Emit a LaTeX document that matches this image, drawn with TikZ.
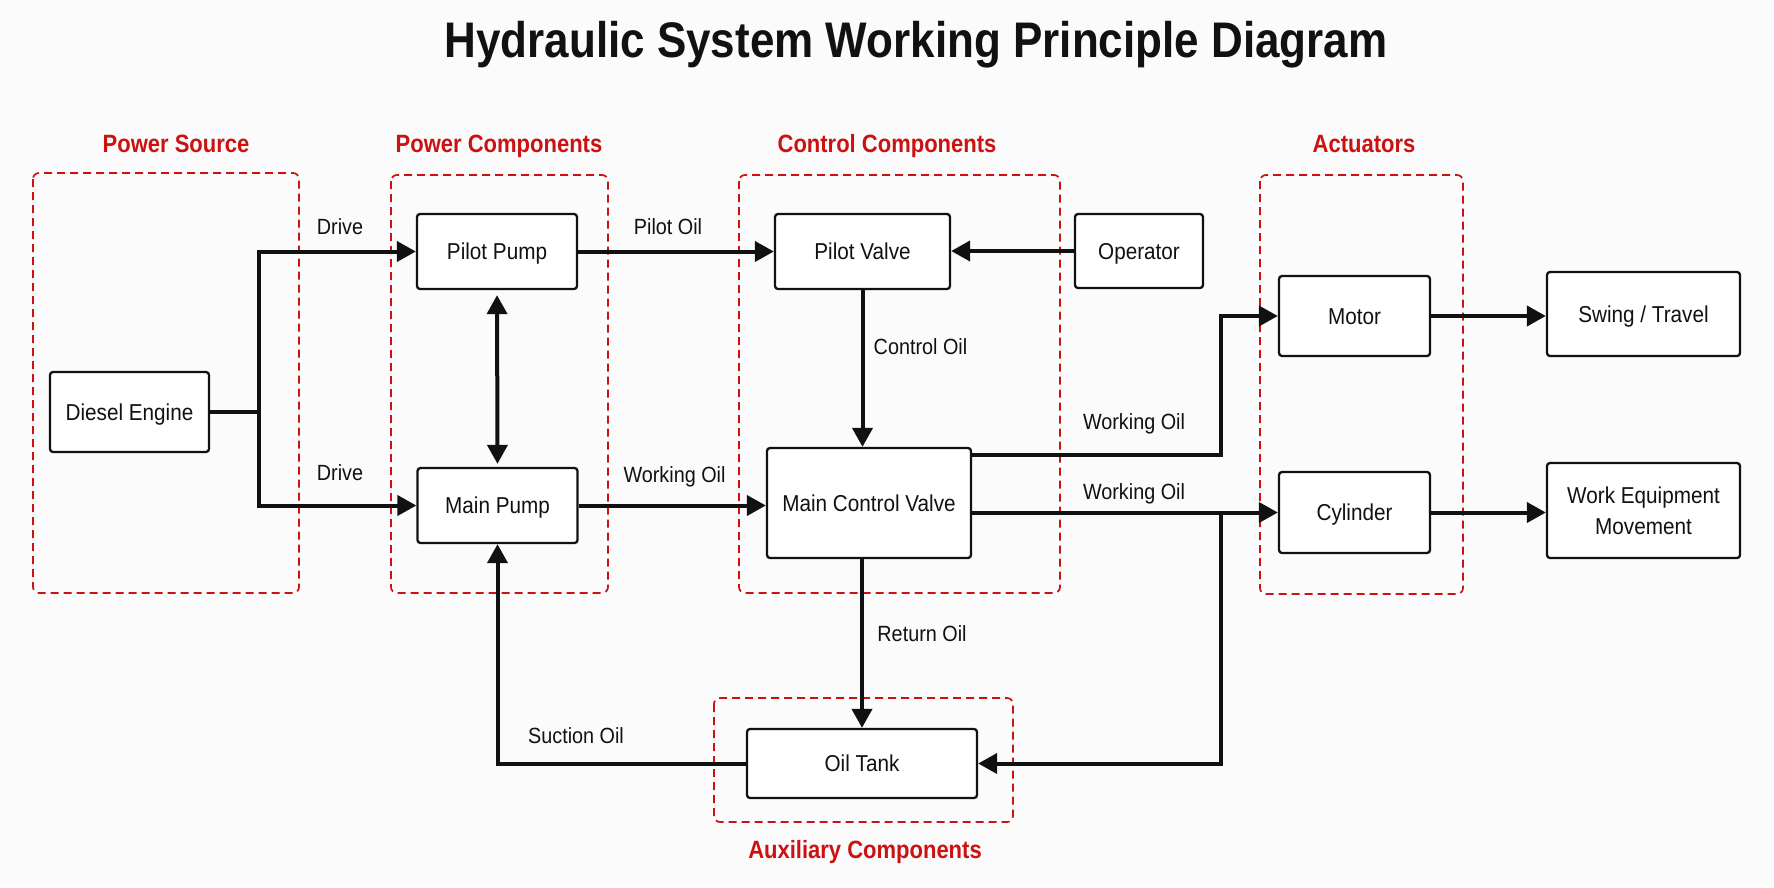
\documentclass[tikz,border=0pt]{standalone}
\usepackage{fontspec}
\setmainfont{Liberation Sans}
\newfontfamily\bodyfont{Liberation Sans}[FakeStretch=0.9]
\newfontfamily\headfont{Liberation Sans}[FakeStretch=0.88]
\usetikzlibrary{arrows.meta}
\definecolor{grpred}{RGB}{204,17,17}
\definecolor{bgc}{RGB}{251,251,251}
\definecolor{ink}{RGB}{17,17,17}
\begin{document}
\begin{tikzpicture}[x=1pt,y=-1pt,
  nodebase/.style={draw=ink, line width=2.3pt, rounded corners=3pt, fill=white, inner sep=0pt, text=ink,
    font=\bodyfont\fontsize{23}{31}\selectfont},
  nodebox/.style={nodebase, text height=16.5pt, text depth=0pt},
  grpbox/.style={draw=grpred, line width=1.7pt, dash pattern=on 8pt off 5pt, rounded corners=6pt},
  grplabel/.style={text=grpred, font=\headfont\bfseries\fontsize{25}{30}\selectfont, anchor=base},
  lbl/.style={text=ink, font=\bodyfont\fontsize{22}{26}\selectfont, anchor=base},
  wire/.style={draw=ink, line width=4pt},
  conn/.style={wire, -{Triangle[length=19pt,width=20pt]}}
]
\fill[bgc] (0,0) rectangle (1774,887);
\useasboundingbox (0,0) rectangle (1774,887);

% title
\node[anchor=base, text=ink, font=\headfont\bfseries\fontsize{50}{60}\selectfont] (title) at (916,57) {Hydraulic System Working Principle Diagram};

% group boxes
\draw[grpbox] (33,173) rectangle (299,593);
\draw[grpbox] (391,175) rectangle (608,593);
\draw[grpbox] (739,175) rectangle (1060,593);
\draw[grpbox] (1260,175) rectangle (1463,594);
\draw[grpbox] (714,698) rectangle (1013,822);

\node[grplabel] (gps) at (176,152) {Power Source};
\node[grplabel] (gpc) at (499,152) {Power Components};
\node[grplabel] (gcc) at (887,152) {Control Components};
\node[grplabel] (gac) at (1364,152) {Actuators};
\node[grplabel] (gax) at (865,858) {Auxiliary Components};

% nodes
\node[nodebox, minimum width=159pt, minimum height=80pt] (de) at (129.5,412) {Diesel Engine};
\node[nodebox, minimum width=160pt, minimum height=75pt] (pp) at (497,251.5) {Pilot Pump};
\node[nodebox, minimum width=160pt, minimum height=75pt] (mp) at (497.5,505.5) {Main Pump};
\node[nodebox, minimum width=175pt, minimum height=75pt] (pv) at (862.5,251.5) {Pilot Valve};
\node[nodebox, minimum width=128pt, minimum height=74pt] (op) at (1139,251) {Operator};
\node[nodebox, minimum width=204pt, minimum height=110pt] (mcv) at (869,503) {Main Control Valve};
\node[nodebox, minimum width=151pt, minimum height=80pt] (mo) at (1354.5,316) {Motor};
\node[nodebox, minimum width=193pt, minimum height=84pt] (st) at (1643.5,314) {Swing / Travel};
\node[nodebox, minimum width=151pt, minimum height=81pt] (cy) at (1354.5,512.5) {Cylinder};
\node[nodebase, minimum width=193pt, minimum height=95pt, align=center] (wem) at (1643.5,510.5) {Work Equipment\\Movement};
\node[nodebox, minimum width=230pt, minimum height=69pt] (ot) at (862,763.5) {Oil Tank};

% connectors
\coordinate (jd) at (259,412);
\draw[wire] (de.east) -- (jd);
\draw[conn] (jd) |- (pp.west);
\draw[conn] (jd) |- (mp.west);
\draw[wire, {Triangle[length=19pt,width=20pt]}-{Triangle[length=19pt,width=20pt]}, shorten <=5pt, shorten >=3pt] (pp.south) -- (mp.north);
\draw[conn] (pp.east) -- (pv.west);
\draw[conn] (op.west) -- (op.west -| pv.east);
\draw[conn] (pv.south) -- (pv.south |- mcv.north);
\draw[conn] (mp.east) -- (mp.east -| mcv.west);
\coordinate (jm) at (1221,455);
\draw[conn] (mcv.east |- jm) -- (jm) |- (mo.west);
\draw[conn] (mcv.east |- cy.west) -- (cy.west);
\coordinate (jt) at (1221,512.5);
\draw[conn] (jt) |- (ot.east);
\draw[conn] (ot.north |- mcv.south) -- (ot.north);
\draw[conn] (ot.west) -| (mp.south);
\draw[conn] (mo.east) -- (mo.east -| st.west);
\draw[conn] (cy.east) -- (cy.east -| wem.west);

% labels
\node[lbl] (ld1) at (340,234) {Drive};
\node[lbl] (ld2) at (340,480) {Drive};
\node[lbl] (lpo) at (668,234) {Pilot Oil};
\node[lbl] (lwo1) at (674.5,482) {Working Oil};
\node[lbl] (lco) at (920.5,354) {Control Oil};
\node[lbl] (lwo2) at (1134,429) {Working Oil};
\node[lbl] (lwo3) at (1134,499) {Working Oil};
\node[lbl] (lro) at (922,641) {Return Oil};
\node[lbl] (lso) at (576,743) {Suction Oil};
\end{tikzpicture}
\end{document}
